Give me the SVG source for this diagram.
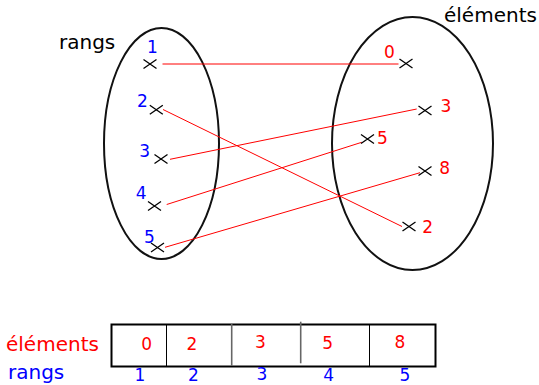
<svg xmlns="http://www.w3.org/2000/svg" xmlns:xlink="http://www.w3.org/1999/xlink" width="539" height="385" viewBox="0 0 539 385">
<defs>
<style>
text{font-family:"DejaVu Sans","Liberation Sans",sans-serif}
.lbl{font-size:20px}
.dg{font-size:17px;text-anchor:middle}
.blue{fill:#0000ff}
.red{fill:#ff0000}
.blk{fill:#000}
.set{fill:none;stroke:#111;stroke-width:2}
.conn{stroke:#ff0000;stroke-width:1;fill:none}
.cross{stroke:#000;stroke-width:1.3;fill:none}
</style>
<path id="x" class="cross" d="M-6.5,-4.5L6.5,4.5M-6.5,4.5L6.5,-4.5"/>
</defs>
<rect width="539" height="385" fill="#fff"/>
<g id="set-rangs">
<ellipse class="set" cx="161.5" cy="143.5" rx="57.5" ry="115.5"/>
<text class="lbl blk" x="59" y="48.5">rangs</text>
</g>
<g id="set-elements">
<ellipse class="set" cx="412.5" cy="143.5" rx="80.5" ry="126.5"/>
<text class="lbl blk" x="444" y="22">éléments</text>
</g>
<g id="connectors">
<line class="conn" x1="162.5" y1="64" x2="398.5" y2="64"/>
<line class="conn" x1="163" y1="109.5" x2="402" y2="226.5"/>
<line class="conn" x1="170" y1="159.3" x2="416.7" y2="109"/>
<line class="conn" x1="166.7" y1="204.5" x2="361.7" y2="142.3"/>
<line class="conn" x1="165" y1="247.3" x2="420" y2="172.7"/>
</g>
<g id="r1"><use xlink:href="#x" x="150" y="64"/><text class="dg blue" x="152.5" y="53.3">1</text></g>
<g id="r2"><use xlink:href="#x" x="156.3" y="109.7"/><text class="dg blue" x="142.3" y="106.8">2</text></g>
<g id="r3"><use xlink:href="#x" x="161" y="159"/><text class="dg blue" x="144.7" y="156.7">3</text></g>
<g id="r4"><use xlink:href="#x" x="154.5" y="206"/><text class="dg blue" x="141.2" y="199.3">4</text></g>
<g id="r5"><use xlink:href="#x" x="157.5" y="247.5"/><text class="dg blue" x="149.3" y="243.3">5</text></g>
<g id="e0"><use xlink:href="#x" x="406" y="63.5"/><text class="dg red" x="389.5" y="58.3">0</text></g>
<g id="e3"><use xlink:href="#x" x="425" y="110.5"/><text class="dg red" x="445.8" y="112.3">3</text></g>
<g id="e5"><use xlink:href="#x" x="367.5" y="139"/><text class="dg red" x="382.3" y="144">5</text></g>
<g id="e8"><use xlink:href="#x" x="425" y="171"/><text class="dg red" x="444.7" y="174.3">8</text></g>
<g id="e2"><use xlink:href="#x" x="409" y="226.5"/><text class="dg red" x="427.7" y="232.7">2</text></g>
<g id="table">
<rect x="111.5" y="324.5" width="324" height="42" fill="none" stroke="#000" stroke-width="2"/>
<line x1="166.5" y1="324" x2="166.5" y2="366" stroke="#000" stroke-width="1"/>
<line x1="231.7" y1="324" x2="231.7" y2="366" stroke="#666" stroke-width="1.6"/>
<line x1="300.7" y1="321.7" x2="300.7" y2="363.3" stroke="#666" stroke-width="1.6"/>
<line x1="369.5" y1="324" x2="369.5" y2="366" stroke="#000" stroke-width="1"/>
<text class="dg red" x="146.7" y="350">0</text>
<text class="dg red" x="192" y="350">2</text>
<text class="dg red" x="260.3" y="348.3">3</text>
<text class="dg red" x="327.7" y="349.3">5</text>
<text class="dg red" x="400" y="348.3">8</text>
<text class="dg blue" x="140" y="381">1</text>
<text class="dg blue" x="193.3" y="381">2</text>
<text class="dg blue" x="262" y="380">3</text>
<text class="dg blue" x="328.7" y="381">4</text>
<text class="dg blue" x="405" y="381">5</text>
<text class="lbl red" x="6" y="350.5">éléments</text>
<text class="lbl blue" x="8" y="378.5">rangs</text>
</g>
</svg>
